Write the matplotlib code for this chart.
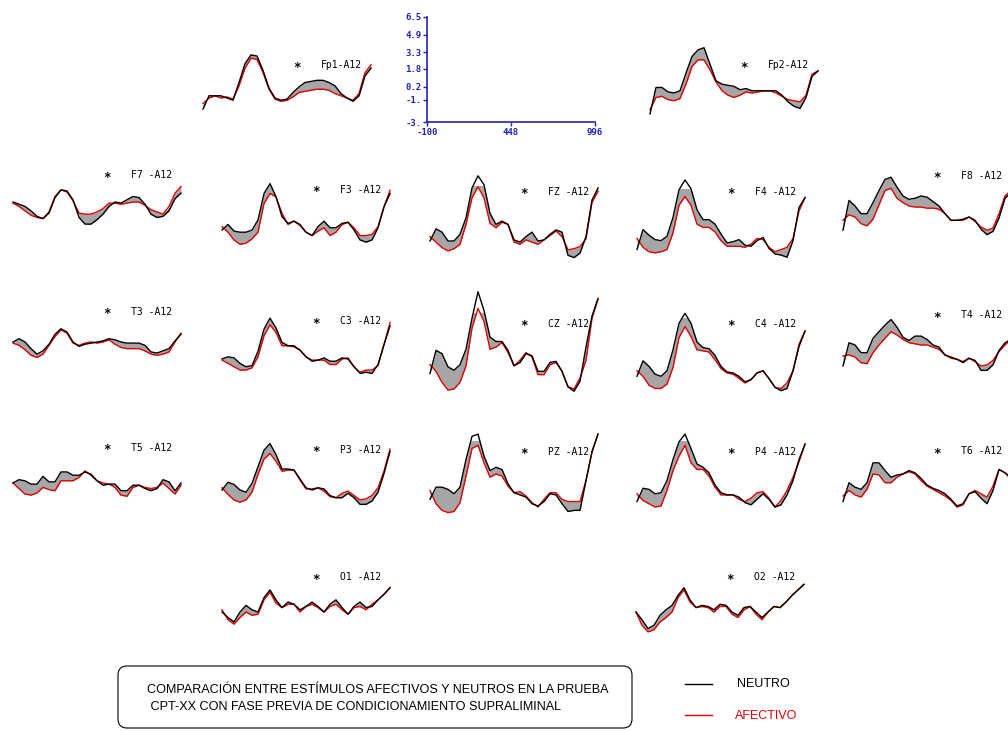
import numpy as np
import matplotlib.pyplot as plt
from matplotlib.patches import FancyBboxPatch

W, H = 1008, 731

# every trace runs from -100 to 996 ms, 29 samples
times = np.linspace(-100, 996, 29)

# averaged ERP traces (uV)
neutro_fp1 = [-1.0, 0.2, 0.2, 0.2, 0.0, -0.2, 1.4, 3.1, 3.9, 3.8, 2.5, 0.9, 0.0, -0.2, -0.1, 0.5, 1.0, 1.4, 1.5, 1.6, 1.6, 1.4, 1.1, 0.4, 0.0, -0.3, 0.2, 2.0, 2.7]
afect_fp1 = [-0.5, 0.0, 0.2, 0.0, 0.1, -0.1, 1.1, 2.7, 3.6, 3.5, 2.3, 0.8, -0.1, -0.3, -0.2, 0.1, 0.5, 0.6, 0.7, 0.8, 0.8, 0.7, 0.4, 0.2, 0.0, -0.2, 0.4, 2.3, 3.0]
neutro_fp2 = [-1.9, 0.5, 0.5, 0.1, 0.0, 0.2, 1.8, 3.3, 3.9, 4.1, 2.6, 1.1, 0.8, 0.7, 0.6, 0.3, 0.4, 0.2, 0.2, 0.2, 0.2, 0.2, -0.2, -0.8, -1.2, -1.4, -0.4, 1.5, 2.0]
afect_fp2 = [-1.5, -0.4, -0.3, -0.6, -0.7, -0.5, 0.8, 2.4, 3.0, 3.0, 2.1, 1.0, 0.2, -0.2, -0.4, -0.2, 0.1, 0.0, 0.1, 0.2, 0.2, 0.0, -0.3, -0.6, -0.7, -0.8, -0.2, 1.7, 2.0]
neutro_f7 = [0.0, -0.2, -0.4, -0.8, -1.3, -1.5, -1.0, 0.4, 1.1, 1.0, 0.2, -1.4, -2.0, -2.0, -1.6, -1.1, -0.4, 0.0, -0.1, 0.2, 0.5, 0.4, -0.2, -1.1, -1.4, -1.3, -0.8, 0.3, 0.8]
afect_f7 = [-0.1, -0.4, -0.8, -1.2, -1.4, -1.5, -0.9, 0.5, 1.1, 0.9, 0.1, -1.0, -1.1, -1.1, -0.9, -0.6, -0.1, -0.1, -0.2, -0.1, 0.0, 0.0, -0.3, -0.7, -0.9, -1.1, -0.4, 0.8, 1.4]
neutro_f3 = [0.0, 0.5, -0.1, -0.2, -0.2, 0.0, 0.9, 3.3, 4.2, 3.0, 1.2, 0.6, 0.8, 0.5, -0.2, -0.5, 0.3, 0.8, 0.2, 0.2, 0.6, 0.7, 0.0, -0.9, -1.1, -0.9, 0.2, 2.1, 3.3]
afect_f3 = [0.3, -0.2, -0.9, -1.3, -1.2, -0.8, -0.2, 2.4, 3.3, 3.0, 1.5, 0.5, 0.8, 0.4, -0.2, -0.5, -0.1, 0.2, -0.5, -0.2, 0.5, 0.7, 0.2, -0.5, -0.5, -0.4, 0.3, 2.1, 3.6]
neutro_fz = [0.0, 1.1, 0.8, 0.0, 0.0, 0.6, 2.1, 4.8, 5.9, 5.1, 2.5, 1.5, 1.8, 1.5, 0.1, -0.1, 0.4, 0.8, 0.0, 0.1, 0.6, 1.0, 0.8, -1.3, -1.5, -1.1, 0.4, 3.7, 4.8]
afect_fz = [0.4, -0.1, -0.6, -0.9, -0.7, -0.3, 1.5, 3.9, 4.9, 3.9, 1.6, 1.2, 1.7, 1.5, -0.1, -0.3, 0.1, -0.1, -0.3, 0.1, 0.5, 0.9, 0.4, -0.8, -0.7, -0.5, 0.2, 3.5, 4.5]
neutro_f4 = [-0.5, 1.3, 0.8, 0.4, 0.3, 0.7, 2.4, 4.9, 5.8, 5.0, 3.1, 2.2, 2.2, 1.8, 0.9, 0.1, 0.2, 0.4, -0.1, -0.2, 0.3, 0.6, -0.4, -0.9, -1.0, -1.2, 0.3, 3.3, 4.2]
afect_f4 = [0.5, -0.3, -0.7, -0.8, -0.7, -0.5, 1.0, 3.5, 4.3, 3.5, 1.8, 1.5, 1.5, 1.1, 0.3, -0.2, -0.2, -0.2, -0.3, 0.0, 0.5, 0.4, -0.3, -0.7, -0.5, -0.3, 0.5, 3.0, 4.2]
neutro_f8 = [-1.2, 1.5, 1.0, 0.3, 0.3, 1.3, 2.4, 3.4, 3.6, 2.7, 1.9, 1.6, 1.7, 1.9, 1.8, 1.4, 1.0, 0.3, -0.3, -0.3, -0.2, 0.0, -0.3, -1.1, -1.6, -1.3, -0.1, 1.7, 2.2]
afect_f8 = [-0.3, 0.2, 0.0, -0.6, -0.8, -0.2, 1.1, 2.4, 2.6, 1.7, 1.3, 1.0, 0.9, 0.9, 0.8, 0.8, 0.7, 0.3, -0.3, -0.3, -0.3, 0.0, -0.4, -0.9, -1.2, -1.0, 0.3, 1.9, 2.4]
neutro_t3 = [0.0, 0.3, 0.0, -0.6, -1.1, -0.8, -0.2, 0.7, 1.2, 0.9, 0.0, -0.4, -0.2, -0.1, 0.0, 0.1, 0.3, 0.2, 0.0, -0.1, -0.1, -0.1, -0.3, -0.9, -1.0, -0.8, -0.6, 0.1, 0.7]
afect_t3 = [-0.1, -0.3, -0.7, -1.2, -1.4, -1.1, -0.3, 0.5, 1.1, 0.8, -0.1, -0.3, -0.1, 0.0, -0.1, 0.0, 0.2, -0.2, -0.5, -0.6, -0.6, -0.6, -0.8, -1.1, -1.2, -1.1, -0.9, 0.0, 0.8]
neutro_c3 = [0.0, 0.2, 0.1, -0.4, -0.7, -0.6, 0.7, 2.7, 3.7, 2.8, 1.5, 1.2, 1.2, 0.8, 0.2, -0.2, -0.1, 0.1, -0.2, -0.2, 0.1, 0.0, -0.7, -1.3, -1.2, -1.3, -0.5, 1.3, 3.0]
afect_c3 = [-0.1, -0.4, -0.7, -1.0, -1.0, -0.8, 0.2, 2.1, 3.1, 2.4, 1.2, 1.2, 1.1, 0.8, 0.2, -0.1, -0.1, -0.1, -0.5, -0.5, 0.0, 0.1, -0.7, -1.2, -1.0, -1.0, -0.6, 1.3, 3.3]
neutro_cz = [-0.5, 1.6, 1.3, 0.1, -0.2, 0.3, 1.7, 4.5, 6.9, 5.2, 2.8, 2.4, 2.4, 1.6, 0.2, 0.5, 1.3, 1.1, -0.3, -0.3, 0.5, 0.6, -0.3, -1.7, -2.1, -1.2, 1.9, 4.7, 6.3]
afect_cz = [0.3, -0.3, -1.3, -2.0, -1.9, -1.3, 0.2, 3.6, 5.4, 4.2, 1.7, 1.9, 2.3, 1.4, 0.2, 0.7, 1.4, 1.0, -0.6, -0.6, 0.3, 0.5, -0.3, -1.7, -1.9, -0.9, 0.7, 4.5, 6.2]
neutro_c4 = [-0.3, 1.1, 0.6, -0.1, -0.3, 0.2, 2.1, 4.5, 5.4, 4.5, 2.8, 2.3, 2.2, 1.6, 0.6, 0.1, 0.0, -0.3, -0.8, -0.6, 0.0, 0.2, -0.5, -1.3, -1.6, -1.4, 0.2, 2.4, 3.8]
afect_c4 = [0.2, -0.3, -1.1, -1.4, -1.4, -1.0, 0.5, 3.2, 4.2, 3.3, 2.1, 2.0, 1.9, 1.2, 0.4, 0.0, -0.1, -0.5, -0.9, -0.6, 0.0, 0.2, -0.5, -1.3, -1.4, -0.9, 0.2, 2.6, 3.8]
neutro_t4 = [-0.9, 1.2, 1.0, 0.3, 0.3, 1.6, 2.2, 2.8, 3.3, 2.6, 1.7, 1.4, 1.8, 1.8, 1.5, 1.0, 0.8, 0.1, -0.1, -0.3, -0.6, -0.2, -0.4, -1.3, -1.3, -0.8, 0.5, 1.2, 1.5]
afect_t4 = [0.0, 0.1, -0.1, -0.6, -0.7, 0.3, 1.0, 1.6, 2.2, 1.9, 1.5, 1.2, 1.1, 1.0, 1.0, 0.8, 0.6, 0.1, -0.2, -0.3, -0.5, -0.2, -0.5, -0.9, -0.8, -0.4, 0.4, 1.0, 1.5]
neutro_t5 = [0.0, 0.3, 0.2, -0.1, -0.1, 0.6, 0.1, 0.1, 1.0, 1.0, 0.7, 0.7, 1.0, 0.8, 0.2, -0.2, -0.1, -0.1, -0.7, -0.7, -0.2, -0.2, -0.5, -0.7, -0.5, 0.3, 0.1, -0.7, 0.0]
afect_t5 = [0.0, -0.5, -1.0, -1.1, -0.9, -0.4, -0.6, -0.7, 0.2, 0.2, 0.2, 0.5, 1.1, 0.7, 0.2, 0.0, -0.1, -0.4, -1.1, -1.2, -0.4, -0.2, -0.4, -0.5, -0.4, 0.0, -0.5, -1.0, -0.2]
neutro_p3 = [0.0, 0.7, 0.5, 0.0, -0.2, 0.6, 2.1, 3.6, 4.2, 3.2, 1.9, 1.9, 1.8, 1.0, 0.2, 0.0, 0.2, 0.1, -0.5, -0.7, -0.7, -0.3, -0.7, -1.3, -1.3, -1.0, -0.2, 1.5, 3.5]
afect_p3 = [0.2, -0.4, -0.9, -1.1, -0.9, -0.2, 1.4, 2.8, 3.3, 2.6, 1.7, 1.8, 1.8, 0.9, 0.1, 0.1, 0.2, -0.1, -0.6, -0.7, -0.3, -0.1, -0.5, -0.9, -0.8, -0.5, 0.2, 1.7, 3.7]
neutro_pz = [-0.3, 0.8, 0.8, 0.6, 0.2, 0.8, 3.3, 5.4, 5.6, 3.6, 2.3, 2.6, 2.4, 1.1, 0.3, 0.1, -0.1, -0.7, -0.9, -0.5, 0.2, 0.1, -0.7, -1.4, -1.3, -1.3, 1.4, 4.0, 5.6]
afect_pz = [0.5, -0.7, -1.3, -1.5, -1.4, -0.6, 1.8, 4.3, 4.6, 3.0, 1.7, 2.0, 1.8, 0.9, 0.3, 0.4, 0.0, -0.6, -1.0, -0.3, 0.3, 0.3, -0.3, -0.5, -0.5, -0.5, 1.4, 4.0, 5.6]
neutro_p4 = [-0.5, 0.7, 0.6, 0.2, 0.3, 1.4, 3.3, 4.9, 5.6, 4.3, 2.9, 2.6, 2.1, 1.0, 0.3, 0.1, 0.1, -0.1, -0.6, -0.8, -0.3, 0.2, -0.3, -1.0, -0.8, 0.1, 1.4, 3.3, 4.7]
afect_p4 = [0.2, -0.4, -0.7, -1.0, -0.9, 0.5, 2.3, 3.6, 4.6, 3.0, 2.4, 2.4, 1.8, 0.8, 0.1, 0.1, 0.1, -0.3, -0.5, -0.2, 0.3, 0.4, -0.2, -1.0, -0.4, 0.5, 1.7, 3.1, 4.7]
neutro_t6 = [-0.5, 1.2, 0.8, 0.6, 1.2, 3.0, 3.0, 2.3, 1.7, 1.9, 2.0, 2.3, 2.1, 1.6, 1.0, 0.7, 0.5, 0.2, -0.3, -0.9, -0.7, 0.2, 0.4, -0.2, -0.7, 0.5, 2.4, 2.1, 1.7]
afect_t6 = [0.0, 0.5, 0.1, -0.1, 0.6, 2.0, 1.9, 1.2, 1.2, 1.7, 2.0, 2.2, 2.0, 1.4, 0.9, 0.6, 0.3, 0.0, -0.4, -1.0, -0.8, 0.2, 0.5, 0.2, -0.1, 0.9, 2.4, 2.1, 1.5]
neutro_o1 = [0.0, -0.5, -0.9, 0.0, 0.6, 0.2, 0.0, 1.3, 2.0, 1.1, 0.4, 0.9, 0.7, 0.2, 0.5, 0.9, 0.5, 0.0, 0.7, 1.1, 0.4, -0.2, 0.5, 0.9, 0.4, 0.5, 1.1, 1.6, 2.2]
afect_o1 = [0.2, -0.7, -1.1, -0.5, 0.0, -0.3, -0.2, 1.1, 1.8, 0.8, 0.4, 0.7, 0.7, 0.0, 0.5, 0.7, 0.4, 0.0, 0.5, 0.7, 0.2, -0.2, 0.4, 0.5, 0.2, 0.7, 1.1, 1.6, 2.2]
neutro_o2 = [0.0, -0.7, -1.5, -1.2, -0.3, 0.2, 0.6, 1.5, 2.2, 1.1, 0.4, 0.6, 0.5, 0.2, 0.7, 0.6, 0.0, -0.3, 0.4, 0.5, 0.0, -0.5, 0.0, 0.5, 0.4, 0.9, 1.5, 2.0, 2.5]
afect_o2 = [0.0, -1.2, -1.8, -1.6, -0.9, -0.5, 0.0, 1.3, 2.0, 0.9, 0.4, 0.5, 0.4, 0.0, 0.5, 0.5, -0.2, -0.5, 0.2, 0.5, -0.2, -0.7, 0.0, 0.5, 0.4, 0.9, 1.5, 2.0, 2.5]

channels = ['Fp1', 'Fp2', 'F7', 'F3', 'FZ', 'F4', 'F8', 'T3', 'C3', 'CZ',
            'C4', 'T4', 'T5', 'P3', 'PZ', 'P4', 'T6', 'O1', 'O2']
labels = ['Fp1-A12', 'Fp2-A12', 'F7 -A12', 'F3 -A12', 'FZ -A12', 'F4 -A12',
          'F8 -A12', 'T3 -A12', 'C3 -A12', 'CZ -A12', 'C4 -A12', 'T4 -A12',
          'T5 -A12', 'P3 -A12', 'PZ -A12', 'P4 -A12', 'T6 -A12', 'O1 -A12',
          'O2 -A12']
neutro = [neutro_fp1, neutro_fp2, neutro_f7, neutro_f3, neutro_fz, neutro_f4,
          neutro_f8, neutro_t3, neutro_c3, neutro_cz, neutro_c4, neutro_t4,
          neutro_t5, neutro_p3, neutro_pz, neutro_p4, neutro_t6, neutro_o1,
          neutro_o2]
afectivo = [afect_fp1, afect_fp2, afect_f7, afect_f3, afect_fz, afect_f4,
            afect_f8, afect_t3, afect_c3, afect_cz, afect_c4, afect_t4,
            afect_t5, afect_p3, afect_pz, afect_p4, afect_t6, afect_o1,
            afect_o2]

# calibration axis
cal_yticks = [-3, -1, 0.2, 1.8, 3.3, 4.9, 6.5]
cal_ylabels = ['-3.', '-1.', '0.2', '1.8', '3.3', '4.9', '6.5']
cal_xticks = [-100, 448, 996]

# layout in pixels: left edge, zero line, label row
panel_left = [203, 650, 13, 222, 430, 637, 843, 13, 222, 430, 637, 843,
              13, 222, 430, 637, 843, 222, 636]
panel_zero = [98, 93, 202, 230, 241, 244, 217, 342, 359, 368, 373, 356,
              483, 490, 496, 496, 496, 612, 612]
label_y = [65, 65, 175, 190, 192, 192, 176, 312, 321, 324, 324, 315,
           448, 450, 452, 452, 451, 577, 577]

PW = 168          # panel width px (-100..996 ms)
PXUV = 11.05      # px per uV

fig = plt.figure(figsize=(W / 100, H / 100), dpi=100)
fig.patch.set_facecolor('white')


def px_axes(x, y_top, w, h):
    return fig.add_axes([x / W, 1 - (y_top + h) / H, w / W, h / H])


over = px_axes(0, 0, W, H)
over.set_xlim(0, W)
over.set_ylim(H, 0)
over.axis('off')

for i, ch in enumerate(channels):
    half = 5 * PXUV
    ax = px_axes(panel_left[i], panel_zero[i] - half, PW, 2 * half)
    ax.set_xlim(-100, 996)
    ax.set_ylim(-5, 5)
    ax.axis('off')
    n = np.array(neutro[i])
    a = np.array(afectivo[i])
    ax.fill_between(times, n, a, color='#a6a6a6', lw=0)
    ax.plot(times, a, color='#e00000', lw=1.0, clip_on=False)
    ax.plot(times, n, color='black', lw=1.0, clip_on=False)
    over.text(panel_left[i] + 94, label_y[i], '\u2217', fontsize=9,
              fontweight='bold', ha='center', va='center',
              family='DejaVu Sans Mono')
    over.text(panel_left[i] + 118, label_y[i], labels[i], fontsize=7,
              ha='left', va='center', family='DejaVu Sans Mono')

# calibration axis
blue = '#2222bb'
cal = px_axes(427, 17, PW, 105)
cal.set_xlim(-100, 996)
cal.set_ylim(-3, 6.5)
cal.patch.set_alpha(0)
for s in ['top', 'right']:
    cal.spines[s].set_visible(False)
for s in ['left', 'bottom']:
    cal.spines[s].set_color(blue)
    cal.spines[s].set_linewidth(1.2)
cal.set_yticks(cal_yticks)
cal.set_yticklabels(cal_ylabels)
cal.set_xticks(cal_xticks)
cal.set_xticklabels([str(v) for v in cal_xticks])
cal.tick_params(colors=blue, length=3, width=1, labelsize=6.5, pad=1)
for lab in cal.get_xticklabels() + cal.get_yticklabels():
    lab.set_family('DejaVu Sans Mono')
    lab.set_fontweight('bold')

# caption box
box = FancyBboxPatch((118, 666), 514, 62,
                     boxstyle='round,pad=0,rounding_size=9',
                     fc='none', ec='black', lw=0.8)
over.add_patch(box)
over.text(147, 690, 'COMPARACIÓN ENTRE ESTÍMULOS AFECTIVOS Y NEUTROS EN LA PRUEBA',
          fontsize=9.1, family='Liberation Sans', va='center', ha='left')
over.text(147, 707, ' CPT-XX CON FASE PREVIA DE CONDICIONAMIENTO SUPRALIMINAL',
          fontsize=9.1, family='Liberation Sans', va='center', ha='left')

# legend
over.plot([685, 712], [684, 684], color='black', lw=1)
over.text(737, 684, 'NEUTRO', fontsize=9, family='Liberation Sans',
          va='center', ha='left')
over.plot([685, 712], [715, 715], color='#e00000', lw=1)
over.text(735, 716, 'AFECTIVO', fontsize=9, family='Liberation Sans',
          va='center', ha='left', color='#e00000')

fig.savefig('out.png', dpi=100)
